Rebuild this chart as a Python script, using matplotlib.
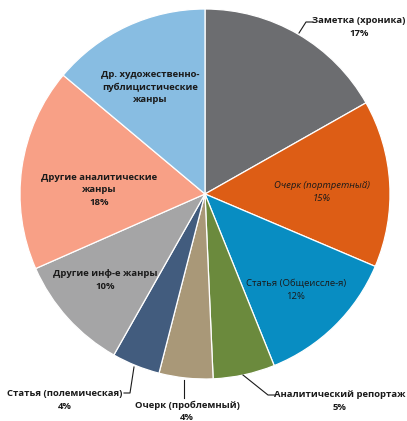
import numpy as np
import matplotlib
matplotlib.use('Agg')
import matplotlib.pyplot as plt

# slices, clockwise from the top
genres = [
    'Заметка (хроника)',
    'Очерк (портретный)',
    'Статья (Общеиссле-я)',
    'Аналитический репортаж',
    'Очерк (проблемный)',
    'Статья (полемическая)',
    'Другие инф-е жанры',
    'Другие аналитические\nжанры',
    'Др. художественно-\nпублицистические\nжанры',
]
shares = [16.8, 14.6, 12.5, 5.4, 4.7, 4.2, 10.2, 17.7, 13.9]
pct_labels = ['17%', '15%', '12%', '5%', '4%', '4%', '10%', '18%', '']
colors = ['#6c6d70', '#dd5d15', '#088dc2', '#6b8a3d', '#a99878',
          '#425c7e', '#a5a5a6', '#f8a086', '#88bde2']

W, H = 407, 421
CX, CY, R = 205, 194, 185


def px(x, y):
    # pixel position -> data coords (pie radius = 1)
    return (x - CX) / R, (CY - y) / R


plt.rcParams['font.family'] = ['Open Sans', 'DejaVu Sans']

fig = plt.figure(figsize=(W / 100, H / 100), dpi=100)
ax = fig.add_axes([0, 0, 1, 1])
ax.pie(shares, colors=colors, startangle=90, counterclock=False,
       wedgeprops=dict(edgecolor='white', linewidth=0.9))
ax.set_xlim(-CX / R, (W - CX) / R)
ax.set_ylim((CY - H) / R, CY / R)
ax.set_aspect('equal')
ax.axis('off')

fs = 6.8
base = dict(fontsize=fs, fontweight='bold', ha='center', va='center',
            color='#1a1a1a', linespacing=1.45)

# labels inside slices
inside = {
    1: (322, 192),
    2: (296, 290),
    6: (105, 280),
    7: (99, 190),
    8: (150, 87),
}
for i, (x, y) in inside.items():
    txt = genres[i]
    if pct_labels[i]:
        txt += '\n' + pct_labels[i]
    kw = dict(base)
    if i == 1:
        kw.update(fontstyle='italic', fontweight='normal')
    if i == 2:
        kw.update(fontweight='normal')
    ax.text(*px(x, y), txt, **kw)

# labels outside with leader lines
outside = {
    0: ((359, 27), [(299, 33), (306, 22), (313, 22)]),
    3: ((340, 401), [(243, 375), (268, 395), (275, 395)]),
    4: ((187, 411), [(184, 380), (184, 398)]),
    5: ((65, 400), [(134, 367), (130, 393), (124, 393)]),
}
for i, ((x, y), path) in outside.items():
    ax.text(*px(x, y), f'{genres[i]}\n{pct_labels[i]}',
            fontstretch='condensed', **base)
    pts = np.array([px(a, b) for a, b in path])
    ax.plot(pts[:, 0], pts[:, 1], color='#1a1a1a', lw=0.8)

fig.savefig('out.png', dpi=100)
